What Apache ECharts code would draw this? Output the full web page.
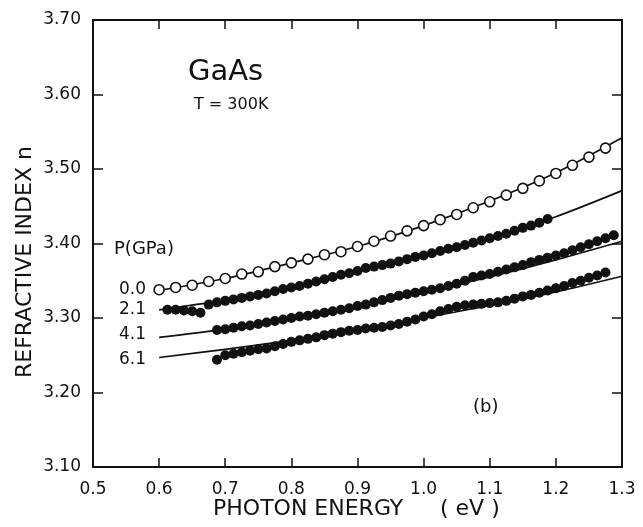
<!DOCTYPE html>
<html>
<head>
<meta charset="utf-8">
<script src="https://cdn.jsdelivr.net/npm/echarts@6/dist/echarts.min.js"></script>
<style>
  html, body { margin: 0; padding: 0; background: #fff; }
  #main { width: 643px; height: 527px; }
</style>
</head>
<body>
<div id="main"></div>
<script>
// photon energy (eV) vs refractive index n, GaAs at 300 K, several pressures
var xTicks = [0.5, 0.6, 0.7, 0.8, 0.9, 1.0, 1.1, 1.2, 1.3];
var yTicks = [3.10, 3.20, 3.30, 3.40, 3.50, 3.60, 3.70];
var pressures = ['0.0', '2.1', '4.1', '6.1'];

// fitted curves [E, n]
var fit00 = [[0.6, 3.337], [0.7, 3.353], [0.8, 3.374], [0.9, 3.396], [1.0, 3.424], [1.1, 3.457], [1.2, 3.495], [1.3, 3.542]];
var fit21 = [[0.6, 3.311], [0.7, 3.324], [0.8, 3.341], [0.9, 3.362], [1.0, 3.384], [1.1, 3.407], [1.2, 3.436], [1.3, 3.471]];
var fit41 = [[0.6, 3.274], [0.7, 3.285], [0.8, 3.299], [0.9, 3.315], [1.0, 3.334], [1.1, 3.355], [1.2, 3.378], [1.3, 3.403]];
var fit61 = [[0.6, 3.247], [0.7, 3.258], [0.8, 3.270], [0.9, 3.284], [1.0, 3.300], [1.1, 3.317], [1.2, 3.335], [1.3, 3.356]];

// measured points, 0.0 GPa (open circles)
var dots00 = [
  [0.6, 3.338], [0.625, 3.341], [0.65, 3.344], [0.675, 3.349], [0.7, 3.353], [0.725, 3.359], [0.75, 3.362],
  [0.775, 3.369], [0.8, 3.374], [0.825, 3.379], [0.85, 3.385], [0.875, 3.389], [0.9, 3.396], [0.925, 3.403],
  [0.95, 3.410], [0.975, 3.417], [1.0, 3.424], [1.025, 3.432], [1.05, 3.439], [1.075, 3.448], [1.1, 3.456],
  [1.125, 3.465], [1.15, 3.474], [1.175, 3.484], [1.2, 3.494], [1.225, 3.505], [1.25, 3.516], [1.275, 3.528]
];

// measured points under pressure (filled dots)
var dots21 = [
  [0.6125, 3.311], [0.625, 3.311], [0.6375, 3.310], [0.65, 3.309], [0.6625, 3.307], [0.675, 3.318], [0.6875, 3.321],
  [0.7, 3.323], [0.7125, 3.325], [0.725, 3.327], [0.7375, 3.329], [0.75, 3.331], [0.7625, 3.333], [0.775, 3.336],
  [0.7875, 3.339], [0.8, 3.341], [0.8125, 3.343], [0.825, 3.346], [0.8375, 3.349], [0.85, 3.352], [0.8625, 3.355],
  [0.875, 3.358], [0.8875, 3.360], [0.9, 3.363], [0.9125, 3.367], [0.925, 3.369], [0.9375, 3.371], [0.95, 3.373],
  [0.9625, 3.376], [0.975, 3.379], [0.9875, 3.382], [1.0, 3.384], [1.0125, 3.387], [1.025, 3.390], [1.0375, 3.393],
  [1.05, 3.395], [1.0625, 3.398], [1.075, 3.401], [1.0875, 3.404], [1.1, 3.407], [1.1125, 3.410], [1.125, 3.413],
  [1.1375, 3.417], [1.15, 3.421], [1.1625, 3.424], [1.175, 3.428], [1.1875, 3.433]
];
var dots41 = [
  [0.6875, 3.284], [0.7, 3.285], [0.7125, 3.287], [0.725, 3.289], [0.7375, 3.290], [0.75, 3.292], [0.7625, 3.294],
  [0.775, 3.296], [0.7875, 3.298], [0.8, 3.300], [0.8125, 3.302], [0.825, 3.303], [0.8375, 3.305], [0.85, 3.307],
  [0.8625, 3.309], [0.875, 3.311], [0.8875, 3.313], [0.9, 3.316], [0.9125, 3.318], [0.925, 3.321], [0.9375, 3.324],
  [0.95, 3.327], [0.9625, 3.330], [0.975, 3.332], [0.9875, 3.334], [1.0, 3.336], [1.0125, 3.338], [1.025, 3.340],
  [1.0375, 3.343], [1.05, 3.346], [1.0625, 3.350], [1.075, 3.355], [1.0875, 3.357], [1.1, 3.359], [1.1125, 3.362],
  [1.125, 3.365], [1.1375, 3.368], [1.15, 3.371], [1.1625, 3.375], [1.175, 3.378], [1.1875, 3.381], [1.2, 3.384],
  [1.2125, 3.387], [1.225, 3.391], [1.2375, 3.395], [1.25, 3.399], [1.2625, 3.403], [1.275, 3.407], [1.2875, 3.411]
];
var dots61 = [
  [0.6875, 3.244], [0.7, 3.250], [0.7125, 3.252], [0.725, 3.254], [0.7375, 3.256], [0.75, 3.258], [0.7625, 3.259],
  [0.775, 3.262], [0.7875, 3.265], [0.8, 3.268], [0.8125, 3.270], [0.825, 3.272], [0.8375, 3.274], [0.85, 3.277],
  [0.8625, 3.279], [0.875, 3.281], [0.8875, 3.283], [0.9, 3.284], [0.9125, 3.286], [0.925, 3.287], [0.9375, 3.288],
  [0.95, 3.290], [0.9625, 3.292], [0.975, 3.295], [0.9875, 3.298], [1.0, 3.302], [1.0125, 3.305], [1.025, 3.309],
  [1.0375, 3.312], [1.05, 3.315], [1.0625, 3.317], [1.075, 3.318], [1.0875, 3.319], [1.1, 3.320], [1.1125, 3.321],
  [1.125, 3.323], [1.1375, 3.326], [1.15, 3.329], [1.1625, 3.331], [1.175, 3.334], [1.1875, 3.337], [1.2, 3.340],
  [1.2125, 3.343], [1.225, 3.347], [1.2375, 3.350], [1.25, 3.354], [1.2625, 3.357], [1.275, 3.361]
];

var chart = echarts.init(document.getElementById('main'));
var font = 'DejaVu Sans';
var ink = '#111';

function fitLine(data) {
  return {
    type: 'line',
    data: data,
    smooth: 0.3,
    showSymbol: false,
    symbol: 'none',
    lineStyle: { color: ink, width: 1.7 },
    z: 2,
    silent: true
  };
}

function filled(data) {
  return {
    type: 'scatter', data: data, symbol: 'circle', symbolSize: 10, z: 4,
    itemStyle: { color: ink, opacity: 1 }
  };
}

function axisX(pos, showLabel) {
  return {
    type: 'value',
    position: pos,
    min: xTicks[0],
    max: xTicks[xTicks.length - 1],
    interval: 0.1,
    axisLine: { show: true, lineStyle: { color: ink, width: 2 } },
    axisTick: { show: true, inside: true, length: 9, lineStyle: { color: ink, width: 1.5 } },
    axisLabel: {
      show: showLabel, color: ink, fontFamily: font, fontSize: 17, margin: 14,
      formatter: function (v) { return v.toFixed(1); }
    },
    splitLine: { show: false }
  };
}

function axisY(pos, showLabel) {
  return {
    type: 'value',
    position: pos,
    min: yTicks[0],
    max: yTicks[yTicks.length - 1],
    interval: 0.1,
    axisLine: { show: true, lineStyle: { color: ink, width: 2 } },
    axisTick: { show: true, inside: true, length: 10, lineStyle: { color: ink, width: 1.5 } },
    axisLabel: {
      show: showLabel, color: ink, fontFamily: font, fontSize: 17, margin: 12,
      formatter: function (v) { return v.toFixed(2); }
    },
    splitLine: { show: false }
  };
}

var labelY = [291, 311, 336, 361];
var graphics = [
  { type: 'text', left: 188, top: 58, style: { text: 'GaAs', font: '29px "DejaVu Sans"', fill: ink } },
  { type: 'text', left: 194, top: 97, style: { text: 'T = 300K', font: '16px "DejaVu Sans"', fill: ink } },
  { type: 'text', left: 114, top: 240, style: { text: 'P(GPa)', font: '18px "DejaVu Sans"', fill: ink } },
  { type: 'text', left: 473, top: 398, style: { text: '(b)', font: '18px "DejaVu Sans"', fill: ink } },
  { type: 'text', left: 213, top: 498, style: { text: 'PHOTON ENERGY', font: '22px "DejaVu Sans"', fill: ink } },
  { type: 'text', left: 440, top: 498, style: { text: '( eV )', font: '22px "DejaVu Sans"', fill: ink } },
  {
    type: 'text', x: 14, y: 378, rotation: Math.PI / 2,
    style: { text: 'REFRACTIVE INDEX n', font: '22px "DejaVu Sans"', fill: ink, verticalAlign: 'top' }
  }
];
pressures.forEach(function (p, i) {
  graphics.push({
    type: 'text', left: 119, top: labelY[i] - 10,
    style: { text: p, font: '17px "DejaVu Sans"', fill: ink }
  });
});

var option = {
  backgroundColor: '#ffffff',
  animation: false,
  grid: { left: 93, right: 21, top: 20, bottom: 60 },
  xAxis: [axisX('bottom', true), axisX('top', false)],
  yAxis: [axisY('left', true), axisY('right', false)],
  graphic: graphics,
  series: [
    fitLine(fit00),
    fitLine(fit21),
    fitLine(fit41),
    fitLine(fit61),
    {
      type: 'scatter', data: dots00, symbol: 'circle', symbolSize: 10, z: 4,
      itemStyle: { color: '#fff', borderColor: ink, borderWidth: 1.6, opacity: 1 }
    },
    filled(dots21),
    filled(dots41),
    filled(dots61)
  ]
};

chart.setOption(option, true);
</script>
</body>
</html>
